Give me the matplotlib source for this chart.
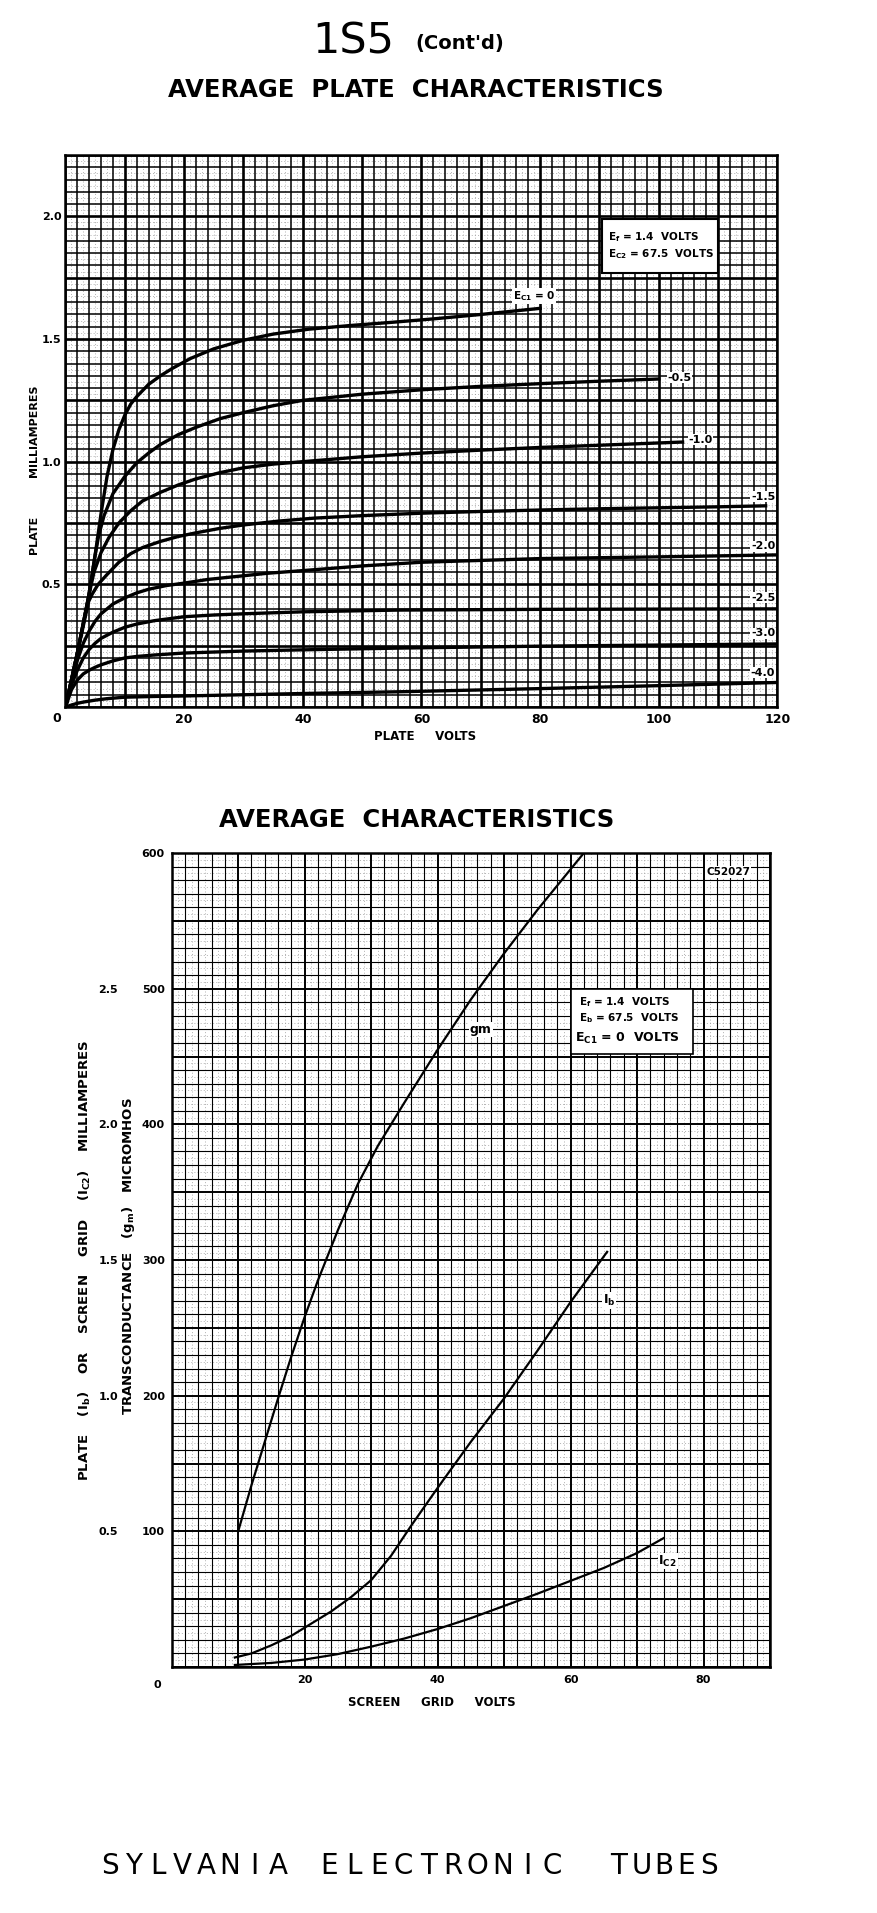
import matplotlib.pyplot as plt
import numpy as np
from matplotlib.patches import Rectangle

plt.rcParams['font.family'] = ['DejaVu Sans']
plt.rcParams['mathtext.default'] = 'bf'

W, H = 878, 1913

# ---- top chart: average plate characteristics (Ef 1.4 V, Ec2 67.5 V)
ec0_v = [0, 2, 3.9, 5, 6, 7, 8, 9, 10, 11, 12, 14, 16, 18, 21, 25, 30, 35, 41, 48, 55, 62, 70, 80]
ec0_i = [0, 0.22, 0.45, 0.62, 0.79, 0.94, 1.05, 1.13, 1.19, 1.235, 1.265, 1.315, 1.35, 1.38,
         1.42, 1.46, 1.495, 1.52, 1.54, 1.555, 1.568, 1.582, 1.6, 1.625]
ec05_v = [0, 2, 3.9, 5, 5.6, 6.5, 8, 10, 12, 14, 16, 19, 22, 26, 30, 35, 40, 50, 60, 70, 80, 90, 100]
ec05_i = [0, 0.22, 0.45, 0.62, 0.70, 0.78, 0.87, 0.94, 0.995, 1.035, 1.07, 1.11, 1.14, 1.175,
          1.2, 1.228, 1.25, 1.275, 1.293, 1.307, 1.318, 1.328, 1.337]
ec10_v = [0, 2, 3.9, 4.8, 6, 7.3, 9, 11, 13, 16, 19, 22, 26, 30, 35, 40, 50, 60, 70, 80, 90, 104]
ec10_i = [0, 0.22, 0.45, 0.55, 0.63, 0.69, 0.75, 0.80, 0.84, 0.875, 0.905, 0.93, 0.955, 0.975,
          0.99, 1.0, 1.02, 1.035, 1.047, 1.058, 1.067, 1.08]
ec15_v = [0, 2, 3.9, 4.5, 5.5, 7, 9, 11, 13, 16, 19, 22, 26, 30, 36, 42, 50, 60, 70, 80, 90, 100,
          110, 118]
ec15_i = [0, 0.22, 0.43, 0.46, 0.5, 0.54, 0.59, 0.625, 0.65, 0.675, 0.695, 0.71, 0.728, 0.742,
          0.758, 0.77, 0.78, 0.79, 0.797, 0.803, 0.808, 0.812, 0.816, 0.82]
ec20_v = [0, 1, 2, 3, 4, 5, 6, 8, 10, 12, 14, 17, 20, 24, 28, 34, 40, 50, 60, 80, 100, 120]
ec20_i = [0, 0.1, 0.19, 0.26, 0.31, 0.35, 0.38, 0.42, 0.445, 0.465, 0.48, 0.495, 0.505, 0.52,
          0.53, 0.545, 0.556, 0.575, 0.59, 0.605, 0.612, 0.62]
ec25_v = [0, 1, 2, 3, 4, 5, 6, 8, 10, 12, 15, 20, 25, 30, 40, 56, 80, 120]
ec25_i = [0, 0.09, 0.15, 0.2, 0.235, 0.26, 0.28, 0.305, 0.325, 0.338, 0.352, 0.368, 0.375, 0.38,
          0.388, 0.395, 0.398, 0.40]
ec30_v = [0, 1, 2, 3, 4, 5, 6, 8, 10, 12, 15, 20, 30, 40, 56, 80, 120]
ec30_i = [0, 0.07, 0.11, 0.135, 0.15, 0.162, 0.172, 0.188, 0.2, 0.206, 0.212, 0.22, 0.228,
          0.233, 0.24, 0.248, 0.257]
ec40_v = [0, 1, 2, 3, 5, 7, 10, 15, 20, 30, 40, 56, 80, 100, 120]
ec40_i = [0, 0.008, 0.015, 0.02, 0.028, 0.034, 0.04, 0.043, 0.045, 0.05, 0.055, 0.062, 0.075,
          0.087, 0.1]

top_curves = [(ec0_v, ec0_i), (ec05_v, ec05_i), (ec10_v, ec10_i), (ec15_v, ec15_i),
              (ec20_v, ec20_i), (ec25_v, ec25_i), (ec30_v, ec30_i), (ec40_v, ec40_i)]
curve_labels = ['-0.5', '-1.0', '-1.5', '-2.0', '-2.5', '-3.0', '-4.0']

# ---- bottom chart: average characteristics vs screen grid volts
gm_v = [10, 12, 14, 16, 18, 20, 22, 25, 28, 31, 35, 40, 45, 50, 55, 62]
gm = [100, 134, 166, 198, 229, 258, 285, 322, 356, 384, 416, 455, 492, 526, 558, 600]
ib_v = [9.5, 12, 15, 18, 21, 24, 27, 30, 33, 36, 40, 45, 50, 55, 60, 65.5]
ib_ma = [0.035, 0.05, 0.08, 0.115, 0.16, 0.205, 0.258, 0.32, 0.41, 0.52, 0.66, 0.83, 0.99,
         1.165, 1.345, 1.53]
ic2_v = [9.5, 15, 20, 25, 30, 35, 40, 45, 50, 55, 60, 65, 70, 74]
ic2_ma = [0.0075, 0.015, 0.0275, 0.0475, 0.075, 0.105, 0.14, 0.18, 0.225, 0.27, 0.3175, 0.365,
          0.42, 0.475]
UMHO_PER_MA = 200   # mA scale vs micromhos scale


def fx(x):
    return x / W


def fy(y):
    return 1 - y / H


def graph_paper(ax, xmax, ymax, dx, dy, lw_fine, lw_major):
    for i, x in enumerate(np.arange(0, xmax + dx / 2, dx)):
        ax.axvline(x, color='k', lw=lw_major if i % 5 == 0 else lw_fine, zorder=1)
        if x + dx / 2 < xmax:
            ax.axvline(x + dx / 2, color='0.6', lw=0.5, ls=(0, (1.5, 3)), zorder=0.9)
    for i, y in enumerate(np.arange(0, ymax + dy / 2, dy)):
        ax.axhline(y, color='k', lw=lw_major if i % 5 == 0 else lw_fine, zorder=1)
        if y + dy / 2 < ymax:
            ax.axhline(y + dy / 2, color='0.6', lw=0.5, ls=(0, (1.5, 3)), zorder=0.9)
    for s in ax.spines.values():
        s.set_linewidth(1.8)
    ax.tick_params(length=0, labelsize=8)
    for lab in ax.get_xticklabels() + ax.get_yticklabels():
        lab.set_fontweight('bold')


fig = plt.figure(figsize=(W / 100, H / 100), dpi=100)

fig.text(fx(353), fy(42), '1S5', fontsize=31, ha='center', va='center')
fig.text(fx(460), fy(43), "(Cont'd)", fontsize=14, weight='bold', ha='center', va='center')
fig.text(fx(416), fy(90), 'AVERAGE  PLATE  CHARACTERISTICS', fontsize=17.5, weight='bold',
         ha='center', va='center')

# top chart
ax1 = fig.add_axes([fx(65.5), fy(707), (777.5 - 65.5) / W, (707 - 155) / H])
ax1.set_xlim(0, 120)
ax1.set_ylim(0, 2.25)
ax1.set_xticks([20, 40, 60, 80, 100, 120])
ax1.set_yticks([0.5, 1.0, 1.5, 2.0])
ax1.set_yticklabels(['0.5', '1.0', '1.5', '2.0'])
graph_paper(ax1, 120, 2.25, 2, 0.05, 1.1, 1.9)
ax1.tick_params(axis='x', pad=4, labelsize=9)
ax1.tick_params(axis='y', pad=3)
ax1.text(-1.5, -0.047, '0', ha='center', va='center', fontsize=9, weight='bold', clip_on=False)

for v, i in top_curves:
    ax1.plot(v, i, color='k', lw=2.4, zorder=5, solid_joinstyle='round')

lab_box = dict(fc='white', ec='none', pad=0.5)
ax1.text(79, 1.675, 'E$_{C1}$ = 0', ha='center', va='center', fontsize=7.5, weight='bold',
         bbox=lab_box, zorder=6)
lab_xy = [(103.5, 1.343, 'center'), (107, 1.09, 'center'), (119.6, 0.857, 'right'),
          (119.6, 0.655, 'right'), (119.6, 0.445, 'right'), (119.6, 0.30, 'right'),
          (119.6, 0.14, 'right')]
for (x, y, ha), txt in zip(lab_xy, curve_labels):
    ax1.text(x, y, txt, ha=ha, va='center', fontsize=8, weight='bold', bbox=lab_box, zorder=6)

ax1.add_patch(Rectangle((90.5, 1.77), 19.5, 0.22, fc='white', ec='k', lw=1.5, zorder=3))
ax1.text(91.4, 1.915, 'E$_f$ = 1.4  VOLTS', fontsize=7.5, weight='bold', va='center', zorder=4)
ax1.text(91.4, 1.845, 'E$_{C2}$ = 67.5  VOLTS', fontsize=7.5, weight='bold', va='center', zorder=4)

fig.text(fx(35), fy(470), 'PLATE          MILLIAMPERES', rotation=90, ha='center', va='center',
         fontsize=8, weight='bold')
fig.text(fx(425), fy(737), 'PLATE     VOLTS', ha='center', va='center', fontsize=8.5, weight='bold')

# bottom chart
fig.text(fx(417), fy(820), 'AVERAGE  CHARACTERISTICS', fontsize=17.5, weight='bold',
         ha='center', va='center')

ax2 = fig.add_axes([fx(171.7), fy(1667), (770 - 171.7) / W, (1667 - 853) / H])
ax2.set_xlim(0, 90)
ax2.set_ylim(0, 600)
ax2.set_xticks([20, 40, 60, 80])
ax2.set_yticks([100, 200, 300, 400, 500, 600])
graph_paper(ax2, 90, 600, 2, 10, 0.8, 1.4)
ax2.tick_params(axis='x', pad=6)
ax2.tick_params(axis='y', pad=5)
ax2.text(-2.1, -13, '0', ha='center', va='center', fontsize=8, weight='bold', clip_on=False)

sec = ax2.secondary_yaxis(-0.084, functions=(lambda g: g / UMHO_PER_MA, lambda i: i * UMHO_PER_MA))
sec.set_yticks([0.5, 1.0, 1.5, 2.0, 2.5])
sec.set_yticklabels(['0.5', '1.0', '1.5', '2.0', '2.5'])
sec.spines['left'].set_visible(False)
sec.tick_params(length=0, labelsize=8, pad=2.5)
for lab in sec.get_yticklabels():
    lab.set_fontweight('bold')

ax2.plot(gm_v, gm, color='k', lw=1.6, zorder=5, solid_joinstyle='round')
ax2.plot(ib_v, np.array(ib_ma) * UMHO_PER_MA, color='k', lw=1.6, zorder=5, solid_joinstyle='round')
ax2.plot(ic2_v, np.array(ic2_ma) * UMHO_PER_MA, color='k', lw=1.6, zorder=5, solid_joinstyle='round')

ax2.text(46.5, 470, 'gm', ha='center', va='center', fontsize=9, weight='bold', bbox=lab_box, zorder=6)
ax2.text(65.8, 270, 'I$_b$', ha='center', va='center', fontsize=9, weight='bold', bbox=lab_box, zorder=6)
ax2.text(74.6, 78, 'I$_{C2}$', ha='center', va='center', fontsize=9, weight='bold', bbox=lab_box, zorder=6)
ax2.text(83.7, 586, 'C52027', ha='center', va='center', fontsize=7.5, weight='bold',
         bbox=lab_box, zorder=6)

ax2.add_patch(Rectangle((60, 452), 18.4, 48, fc='white', ec='k', lw=1.2, zorder=3))
ax2.text(61.3, 490, 'E$_f$ = 1.4  VOLTS', fontsize=7.5, weight='bold', va='center', zorder=4)
ax2.text(61.3, 478, 'E$_b$ = 67.5  VOLTS', fontsize=7.5, weight='bold', va='center', zorder=4)
ax2.text(60.6, 463, 'E$_{C1}$ = 0  VOLTS', fontsize=9, weight='bold', va='center', zorder=4)

fig.text(fx(85), fy(1260), 'PLATE    (I$_b$)    OR    SCREEN    GRID    (I$_{C2}$)    MILLIAMPERES',
         rotation=90, ha='center', va='center', fontsize=9.5, weight='bold')
fig.text(fx(129), fy(1256), 'TRANSCONDUCTANCE   (g$_m$)   MICROMHOS', rotation=90,
         ha='center', va='center', fontsize=9.5, weight='bold')
fig.text(fx(432), fy(1702), 'SCREEN     GRID     VOLTS', ha='center', va='center',
         fontsize=8.5, weight='bold')

# footer, widely letter-spaced
for word, x0, pitch in [('SYLVANIA', 110, 24), ('ELECTRONIC', 329, 24.8), ('TUBES', 619, 22.5)]:
    for k, ch in enumerate(word):
        fig.text(fx(x0 + k * pitch), fy(1866), ch, ha='center', va='center', fontsize=20)

fig.savefig('out.png', dpi=100, facecolor='white')
